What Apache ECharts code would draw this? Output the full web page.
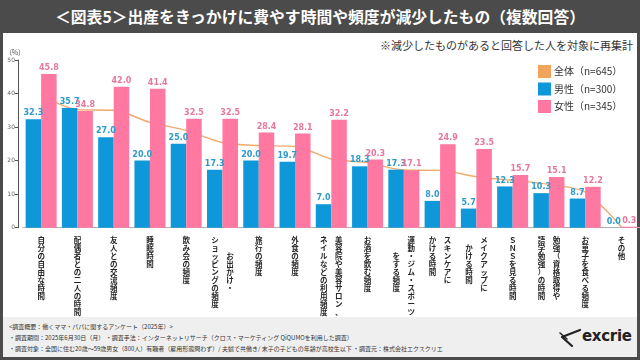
<!DOCTYPE html>
<html><head><meta charset="utf-8">
<script src="https://cdn.jsdelivr.net/npm/echarts@6/dist/echarts.min.js"></script>
<style>
html,body{margin:0;padding:0;width:640px;height:360px;overflow:hidden;background:#4b4b4b;font-family:"Noto Sans CJK JP","Noto Sans",sans-serif;}
#title{position:absolute;left:0;top:0;width:640px;height:33px;line-height:33px;text-align:center;color:#fff;font-size:15.8px;font-weight:bold;}
#panel{position:absolute;left:3px;top:33px;width:634px;height:284px;background:#fff;}
#foot{position:absolute;left:3px;top:317px;width:634px;height:40px;background:#efefef;}
#foot .t{position:absolute;left:6px;font-size:6px;color:#333;white-space:nowrap;line-height:7px;}
#note{position:absolute;left:380px;top:37px;width:246px;text-align:right;font-size:11px;color:#333;white-space:nowrap;}
#logo{position:absolute;left:558px;top:327px;height:22px;}
#logo span{position:absolute;left:24px;top:0px;font-family:"DejaVu Sans",sans-serif;font-weight:bold;font-size:15px;color:#222;letter-spacing:-0.3px;}
#chart{position:absolute;left:0;top:0;width:640px;height:360px;}
</style></head>
<body>
<div id="title">＜図表5＞出産をきっかけに費やす時間や頻度が減少したもの（複数回答）</div>
<div id="panel"></div>
<div id="foot">
<div class="t" style="top:6px">&lt;調査概要：働くママ・パパに関するアンケート（2025年）&gt;</div>
<div class="t" style="top:17px">・調査期間：2025年6月30日（月） ・調査手法：インターネットリサーチ（クロス・マーケティング QiQUMOを利用した調査）</div>
<div class="t" style="top:28px">・調査対象：全国に住む20歳～59歳男女（800人）有職者（雇用形態問わず）/ 夫婦で共働き/ 末子の子どもの年齢が高校生以下 ・調査元：株式会社エクスクリエ</div>
</div>
<div id="note">※減少したものがあると回答した人を対象に再集計</div>
<div id="logo"><svg width="24" height="22" viewBox="0 0 24 22"><path d="M22 3 L4 10 L14 19" fill="none" stroke="#222" stroke-width="2.2" stroke-linecap="round" stroke-linejoin="round"/><path d="M2 6 L9 12" stroke="#222" stroke-width="1.6" stroke-linecap="round"/></svg><span>excrie</span></div>
<div id="chart"></div>
<script>
const categories = ['自分の自由な時間','配偶者との二人の時間','友人との交流頻度','睡眠時間','飲み会の頻度','お出かけ・\nショッピングの頻度','旅行の頻度','外食の頻度','美容院や美容サロン、\nネイルなどの利用頻度','お酒を飲む頻度','運動・ジム・スポーツ\nをする頻度','スキンケアに\nかける時間','メイクアップに\nかける時間','ＳＮＳを見る時間','勉強（資格取得や\n語学勉強）の時間','お菓子を食べる頻度','その他'];
const seriesNames = ['全体（n=645）','男性（n=300）','女性（n=345）'];
const totalValues = [39.5,35.2,35.0,31.4,29.0,25.4,24.5,24.2,20.5,19.4,17.2,17.1,15.2,14.1,12.9,10.6,0.2];
const maleValues = [32.3,35.7,27.0,20.0,25.0,17.3,20.0,19.7,7.0,18.3,17.3,8.0,5.7,12.3,10.3,8.7,0.0];
const femaleValues = [45.8,34.8,42.0,41.4,32.5,32.5,28.4,28.1,32.2,20.3,17.1,24.9,23.5,15.7,15.1,12.2,0.3];
const yTicks = [0,10,20,30,40,50];

const SP='　';
function vert(v){
  const cols=v.split('\n');
  if(cols.length===1) return Array.from(cols[0]).map(ch=>'{c|'+ch+'}').join('\n');
  const r=Array.from(cols[0]), l=Array.from(cols[1]);
  const n=Math.max(r.length,l.length);
  const pad=a=>{const p=Math.floor((n-a.length)/2);const o=Array(p).fill(SP).concat(a);while(o.length<n)o.push(SP);return o;};
  const R=pad(r), L=pad(l);
  const lines=[];
  for(let i=0;i<n;i++) lines.push('{c|'+L[i]+'}{s| }{c|'+R[i]+'}');
  return lines.join('\n');
}
const lblFont='"Noto Sans CJK JP",sans-serif';
const chart=echarts.init(document.getElementById('chart'),null,{renderer:'canvas'});
chart.setOption({
  animation:false,
  textStyle:{fontFamily:lblFont},
  legend:{
    orient:'vertical',left:533,top:60,itemWidth:13,itemHeight:13,itemGap:4.5,
    icon:'rect',data:seriesNames,
    textStyle:{fontSize:10,color:'#333',fontFamily:lblFont,padding:[0,0,0,-2]}
  },
  grid:{left:23,right:0.4,top:60,bottom:132.3,containLabel:false},
  xAxis:{
    type:'category',data:categories,
    axisLine:{show:true,lineStyle:{color:'#b0b0b0',width:1}},
    axisTick:{show:false},
    axisLabel:{interval:0,margin:8,formatter:vert,
      rich:{c:{width:8,align:'center',fontSize:7.5,lineHeight:8.1,fontWeight:'bold',color:'#262626',fontFamily:lblFont},
            s:{width:7,fontSize:7.5,lineHeight:8.1}}}
  },
  yAxis:{
    type:'value',min:0,max:50,interval:10,offset:5,
    name:'(%)',nameLocation:'end',nameGap:4,
    nameTextStyle:{fontSize:7,color:'#555',align:'center',padding:[0,0,0,-6]},
    axisLine:{show:true,lineStyle:{color:'#555',width:1}},
    axisTick:{show:true,length:3,lineStyle:{color:'#555'}},
    splitLine:{show:false},
    axisLabel:{fontSize:6,color:'#666',margin:3,fontFamily:'"DejaVu Sans",sans-serif',
      formatter:v=>yTicks.includes(v)?String(v):''}
  },
  series:[
    {name:seriesNames[0],type:'line',data:totalValues,smooth:0.3,showSymbol:false,symbol:'none',z:1,
     itemStyle:{color:'#f2a45a'},lineStyle:{color:'#f0aa6c',width:1.4}},
    {name:seriesNames[1],type:'bar',data:maleValues,barWidth:15.5,barGap:'0%',z:3,
     itemStyle:{color:'#0e98da'},
     label:{show:true,position:'top',distance:2,formatter:p=>p.value.toFixed(1),fontSize:8,fontWeight:'bold',color:'#2e9acb',fontFamily:'"DejaVu Sans",sans-serif'}},
    {name:seriesNames[2],type:'bar',data:femaleValues,barWidth:15.5,barGap:'0%',z:3,
     itemStyle:{color:'#ff78a2'},
     label:{show:true,position:'top',distance:2,formatter:p=>p.value.toFixed(1),fontSize:8,fontWeight:'bold',color:'#e7779c',fontFamily:'"DejaVu Sans",sans-serif'}}
  ]
});
</script>
</body></html>
